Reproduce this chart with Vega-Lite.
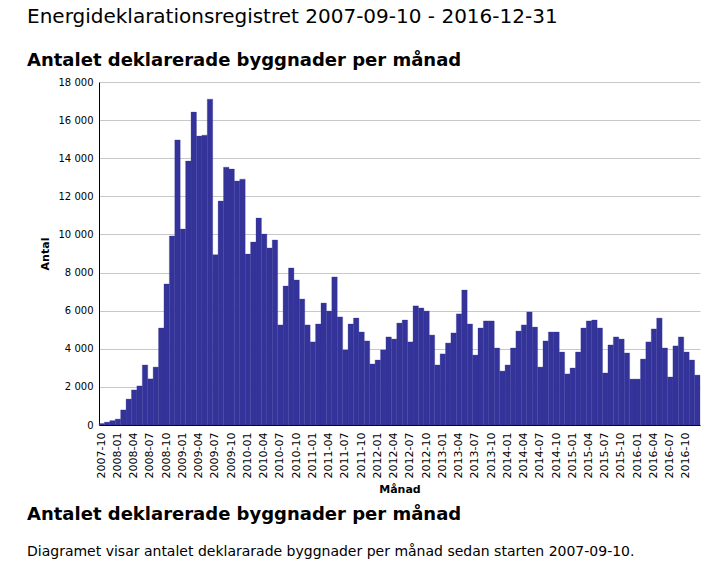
{
  "$schema": "https://vega.github.io/schema/vega-lite/v6.json",
  "background": "white",
  "padding": {"left": 27, "top": 7, "right": 12, "bottom": 10},
  "autosize": {"type": "pad"},
  "title": {
    "text": "Energideklarationsregistret 2007-09-10 - 2016-12-31",
    "subtitle": "Antalet deklarerade byggnader per månad",
    "anchor": "start",
    "frame": "bounds",
    "font": "DejaVu Sans",
    "fontSize": 20,
    "fontWeight": "normal",
    "color": "black",
    "subtitleFont": "DejaVu Sans",
    "subtitleFontSize": 18,
    "subtitleFontWeight": "bold",
    "subtitleColor": "black",
    "subtitlePadding": 25,
    "offset": 7
  },
  "vconcat": [
    {
      "width": 601,
      "height": 343,
      "title": {
        "text": "Antalet deklarerade byggnader per månad",
        "subtitle": "Diagramet visar antalet deklararade byggnader per månad sedan starten 2007-09-10.",
        "orient": "bottom",
        "anchor": "start",
        "frame": "bounds",
        "dx": -12,
        "font": "DejaVu Sans",
        "fontSize": 18,
        "fontWeight": "bold",
        "color": "black",
        "subtitleFont": "DejaVu Sans",
        "subtitleFontSize": 14,
        "subtitleFontWeight": "normal",
        "subtitleColor": "black",
        "subtitlePadding": 21,
        "offset": 11
      },
      "data": {
        "values": [
          {"month": "2007-10", "count": 80},
          {"month": "2007-11", "count": 150},
          {"month": "2007-12", "count": 230},
          {"month": "2008-01", "count": 310},
          {"month": "2008-02", "count": 790},
          {"month": "2008-03", "count": 1360},
          {"month": "2008-04", "count": 1840},
          {"month": "2008-05", "count": 2050},
          {"month": "2008-06", "count": 3150},
          {"month": "2008-07", "count": 2420},
          {"month": "2008-08", "count": 3040},
          {"month": "2008-09", "count": 5090},
          {"month": "2008-10", "count": 7400},
          {"month": "2008-11", "count": 9920},
          {"month": "2008-12", "count": 14960},
          {"month": "2009-01", "count": 10280},
          {"month": "2009-02", "count": 13850},
          {"month": "2009-03", "count": 16420},
          {"month": "2009-04", "count": 15160},
          {"month": "2009-05", "count": 15210},
          {"month": "2009-06", "count": 17100},
          {"month": "2009-07", "count": 8940},
          {"month": "2009-08", "count": 11750},
          {"month": "2009-09", "count": 13530},
          {"month": "2009-10", "count": 13430},
          {"month": "2009-11", "count": 12800},
          {"month": "2009-12", "count": 12900},
          {"month": "2010-01", "count": 8970},
          {"month": "2010-02", "count": 9600},
          {"month": "2010-03", "count": 10860},
          {"month": "2010-04", "count": 10020},
          {"month": "2010-05", "count": 9290},
          {"month": "2010-06", "count": 9710},
          {"month": "2010-07", "count": 5250},
          {"month": "2010-08", "count": 7290},
          {"month": "2010-09", "count": 8240},
          {"month": "2010-10", "count": 7610},
          {"month": "2010-11", "count": 6610},
          {"month": "2010-12", "count": 5250},
          {"month": "2011-01", "count": 4360},
          {"month": "2011-02", "count": 5300},
          {"month": "2011-03", "count": 6400},
          {"month": "2011-04", "count": 5980},
          {"month": "2011-05", "count": 7770},
          {"month": "2011-06", "count": 5670},
          {"month": "2011-07", "count": 3940},
          {"month": "2011-08", "count": 5300},
          {"month": "2011-09", "count": 5610},
          {"month": "2011-10", "count": 4880},
          {"month": "2011-11", "count": 4410},
          {"month": "2011-12", "count": 3200},
          {"month": "2012-01", "count": 3410},
          {"month": "2012-02", "count": 3940},
          {"month": "2012-03", "count": 4620},
          {"month": "2012-04", "count": 4510},
          {"month": "2012-05", "count": 5350},
          {"month": "2012-06", "count": 5510},
          {"month": "2012-07", "count": 4360},
          {"month": "2012-08", "count": 6250},
          {"month": "2012-09", "count": 6140},
          {"month": "2012-10", "count": 5980},
          {"month": "2012-11", "count": 4720},
          {"month": "2012-12", "count": 3150},
          {"month": "2013-01", "count": 3730},
          {"month": "2013-02", "count": 4300},
          {"month": "2013-03", "count": 4830},
          {"month": "2013-04", "count": 5830},
          {"month": "2013-05", "count": 7080},
          {"month": "2013-06", "count": 5300},
          {"month": "2013-07", "count": 3670},
          {"month": "2013-08", "count": 5090},
          {"month": "2013-09", "count": 5460},
          {"month": "2013-10", "count": 5460},
          {"month": "2013-11", "count": 4040},
          {"month": "2013-12", "count": 2830},
          {"month": "2014-01", "count": 3150},
          {"month": "2014-02", "count": 4040},
          {"month": "2014-03", "count": 4930},
          {"month": "2014-04", "count": 5250},
          {"month": "2014-05", "count": 5930},
          {"month": "2014-06", "count": 5140},
          {"month": "2014-07", "count": 3040},
          {"month": "2014-08", "count": 4410},
          {"month": "2014-09", "count": 4880},
          {"month": "2014-10", "count": 4880},
          {"month": "2014-11", "count": 3830},
          {"month": "2014-12", "count": 2680},
          {"month": "2015-01", "count": 2990},
          {"month": "2015-02", "count": 3830},
          {"month": "2015-03", "count": 5090},
          {"month": "2015-04", "count": 5460},
          {"month": "2015-05", "count": 5510},
          {"month": "2015-06", "count": 5090},
          {"month": "2015-07", "count": 2730},
          {"month": "2015-08", "count": 4200},
          {"month": "2015-09", "count": 4620},
          {"month": "2015-10", "count": 4510},
          {"month": "2015-11", "count": 3780},
          {"month": "2015-12", "count": 2410},
          {"month": "2016-01", "count": 2410},
          {"month": "2016-02", "count": 3460},
          {"month": "2016-03", "count": 4360},
          {"month": "2016-04", "count": 5040},
          {"month": "2016-05", "count": 5610},
          {"month": "2016-06", "count": 4040},
          {"month": "2016-07", "count": 2520},
          {"month": "2016-08", "count": 4150},
          {"month": "2016-09", "count": 4620},
          {"month": "2016-10", "count": 3830},
          {"month": "2016-11", "count": 3410},
          {"month": "2016-12", "count": 2620}
        ]
      },
      "mark": {"type": "bar", "color": "#333399", "stroke": "#333399", "strokeWidth": 0.3},
      "encoding": {
        "x": {
          "field": "month",
          "type": "ordinal",
          "sort": null,
          "scale": {"paddingInner": 0, "paddingOuter": 0},
          "axis": {
            "title": "Månad",
            "values": ["2007-10","2008-01","2008-04","2008-07","2008-10","2009-01","2009-04","2009-07","2009-10","2010-01","2010-04","2010-07","2010-10","2011-01","2011-04","2011-07","2011-10","2012-01","2012-04","2012-07","2012-10","2013-01","2013-04","2013-07","2013-10","2014-01","2014-04","2014-07","2014-10","2015-01","2015-04","2015-07","2015-10","2016-01","2016-04","2016-07","2016-10"],
            "labelAngle": 270,
            "labelFont": "DejaVu Sans",
            "labelFontSize": 11,
            "labelColor": "black",
            "labelPadding": 7,
            "ticks": false,
            "domainColor": "black",
            "domainWidth": 1,
            "titleFont": "DejaVu Sans",
            "titleFontSize": 11,
            "titleFontWeight": "bold",
            "titleColor": "black",
            "titlePadding": 6
          }
        },
        "y": {
          "field": "count",
          "type": "quantitative",
          "scale": {"domain": [0, 18000], "nice": false},
          "axis": {
            "title": "Antal",
            "values": [0, 2000, 4000, 6000, 8000, 10000, 12000, 14000, 16000, 18000],
            "labelExpr": "replace(format(datum.value, ',d'), ',', ' ')",
            "labelFont": "DejaVu Sans",
            "labelFontSize": 10,
            "labelColor": "black",
            "labelPadding": 6,
            "ticks": false,
            "domainColor": "black",
            "domainWidth": 1,
            "gridColor": "#c8c8c8",
            "gridWidth": 1,
            "titleFont": "DejaVu Sans",
            "titleFontSize": 11,
            "titleFontWeight": "bold",
            "titleColor": "black",
            "titlePadding": 8
          }
        }
      }
    }
  ],
  "config": {
    "view": {"stroke": null},
    "concat": {"spacing": 0}
  }
}
